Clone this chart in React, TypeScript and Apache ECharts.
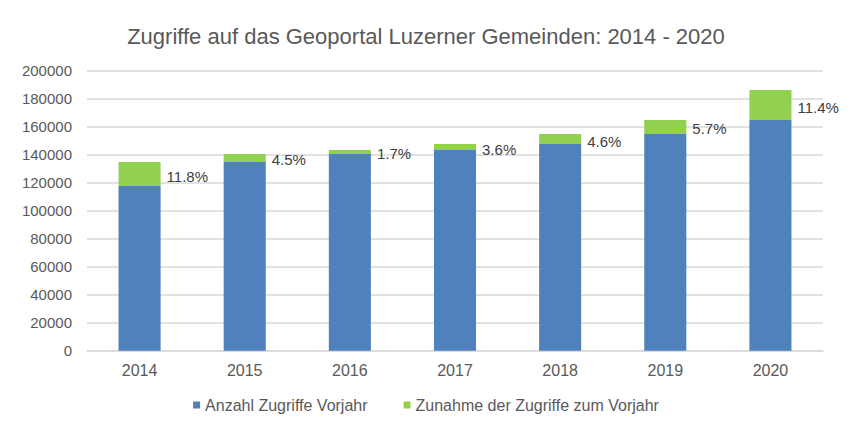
import { useEffect, useRef } from 'react';
import * as echarts from 'echarts';

const years = ['2014', '2015', '2016', '2017', '2018', '2019', '2020'];
// Zugriffe des Vorjahres (blau) und Zunahme (grün)
const vorjahr = [117600, 134800, 140500, 143400, 147600, 154800, 164800];
const zunahme = [17200, 5700, 2900, 4200, 7200, 10000, 21400];
const prozent = ['11.8%', '4.5%', '1.7%', '3.6%', '4.6%', '5.7%', '11.4%'];

const FONT = 'Liberation Sans, Arial, sans-serif';
const GREY = '#595959';

const App = () => {
    const chartRef = useRef<HTMLDivElement>(null);

    useEffect(() => {
        document.body.style.margin = '0';
        const myChart = echarts.init(chartRef.current, null, { renderer: 'svg' });

        myChart.setOption({
            animation: false,
            textStyle: { fontFamily: FONT },
            title: {
                text: 'Zugriffe auf das Geoportal Luzerner Gemeinden: 2014 - 2020',
                left: 'center',
                top: 20,
                textStyle: { fontSize: 22, fontWeight: 'normal', color: GREY, fontFamily: FONT }
            },
            grid: { left: 87, right: 29, top: 70.7, bottom: 88.3 },
            legend: {
                bottom: 21,
                left: 'center',
                itemWidth: 7,
                itemHeight: 7,
                itemGap: 36,
                icon: 'rect',
                textStyle: { fontSize: 16, color: GREY, fontFamily: FONT }
            },
            xAxis: {
                type: 'category',
                data: years,
                axisTick: { show: false },
                axisLine: { lineStyle: { color: '#d9d9d9', width: 1.5 } },
                axisLabel: { fontSize: 16, color: GREY, margin: 12 }
            },
            yAxis: {
                type: 'value',
                min: 0,
                max: 200000,
                interval: 20000,
                axisLabel: { fontSize: 15, color: GREY, margin: 15, formatter: (v: number) => String(v) },
                splitLine: { lineStyle: { color: '#d9d9d9', width: 1.5 } }
            },
            series: [
                {
                    name: 'Anzahl Zugriffe Vorjahr',
                    type: 'bar',
                    stack: 'total',
                    barWidth: '40%',
                    itemStyle: { color: '#4f81bd' },
                    data: vorjahr
                },
                {
                    name: 'Zunahme der Zugriffe zum Vorjahr',
                    type: 'bar',
                    stack: 'total',
                    barWidth: '40%',
                    itemStyle: { color: '#92d050' },
                    label: {
                        show: true,
                        position: 'right',
                        distance: 6,
                        offset: [0, 2],
                        fontSize: 15,
                        color: '#404040',
                        formatter: (p: any) => prozent[p.dataIndex]
                    },
                    data: zunahme
                }
            ]
        });

        return () => {
            myChart.dispose();
        };
    }, []);

    return <div ref={chartRef} style={{ width: '852px', height: '439px' }} />;
};

export default App;
